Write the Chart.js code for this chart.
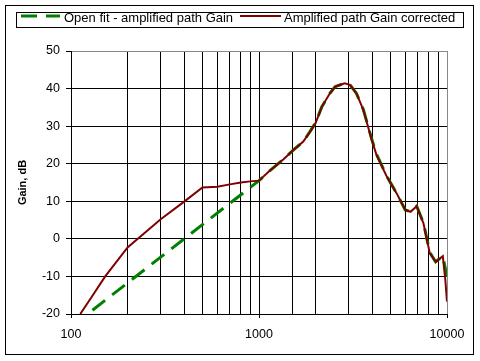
<!DOCTYPE html>
<html>
<head>
<meta charset="utf-8">
<script src="https://cdn.jsdelivr.net/npm/chart.js@4/dist/chart.umd.min.js"></script>
<style>
  body { margin: 0; background: #fff; }
  canvas { display: block; }
</style>
</head>
<body>
<canvas id="chart" width="480" height="361"></canvas>
<script>
// frequencies in Hz, gains in dB
const fitFreq = [130, 1000, 1140, 1350, 1520, 1720, 1870, 2000, 2160, 2380, 2540, 2850, 3050, 3300, 3590, 3980, 4220, 4790, 5400, 6000, 6400, 6900, 7500, 8100, 8700, 9500, 10000];
const fitGain = [-19, 15.5, 18.1, 21.2, 23.6, 25.9, 28.6, 30.9, 35.2, 38.7, 40.5, 41.4, 41, 38.7, 34.4, 26.5, 22.5, 16.6, 12.1, 7.7, 7.2, 8.7, 4.2, -3.6, -6.1, -4.6, -10];

const corrFreq = [112, 129, 152, 200, 300, 400, 500, 600, 700, 800, 900, 1000, 1140, 1350, 1520, 1720, 1870, 2000, 2160, 2380, 2540, 2850, 3050, 3300, 3590, 3980, 4220, 4790, 5400, 6000, 6400, 6900, 7500, 8100, 8700, 9500, 9800, 10000];
const corrGain = [-20, -15.4, -10, -2.3, 5.2, 9.9, 13.7, 13.9, 14.5, 15.0, 15.3, 15.5, 18.1, 21.2, 23.6, 25.9, 28.5, 30.8, 35.2, 38.7, 40.5, 41.4, 41, 38.7, 34.3, 26.3, 22.3, 16.5, 12.1, 7.7, 7.2, 8.7, 4.1, -3.8, -6.1, -4.6, -11, -16.7];

const seriesNames = ['Open fit - amplified path Gain', 'Amplified path Gain corrected'];
const xLabels = [100, 1000, 10000];
const yTicks = [-20, -10, 0, 10, 20, 30, 40, 50];

const FONT = "'Liberation Sans', Arial, sans-serif";

function toPoints(xs, ys) {
    const pts = [];
    for (let i = 0; i < xs.length; i++) {
        pts.push({ x: xs[i], y: ys[i] });
    }
    return pts;
}

function isDecade(v) {
    const l = Math.log10(v);
    return Math.abs(l - Math.round(l)) < 1e-6;
}

// outer frame + boxed legend like the spreadsheet export
const framePlugin = {
    id: 'frame',
    beforeDraw(chart) {
        const ctx = chart.ctx;
        ctx.save();
        ctx.fillStyle = '#fff';
        ctx.fillRect(0, 0, chart.width, chart.height);
        ctx.restore();
    },
    afterDraw(chart) {
        const ctx = chart.ctx;
        ctx.save();
        ctx.strokeStyle = '#000';
        ctx.lineWidth = 1;
        ctx.setLineDash([]);
        ctx.strokeRect(5.5, 5.5, 468, 349);

        // legend
        ctx.strokeRect(16.5, 12.5, 447, 15);
        ctx.font = '13px ' + FONT;
        ctx.textBaseline = 'alphabetic';
        ctx.fillStyle = '#000';

        const ds = chart.data.datasets;
        const items = [
            { set: ds[1], x0: 21, x1: 60, tx: 64 },
            { set: ds[0], x0: 240, x1: 281, tx: 284 }
        ];
        items.forEach(it => {
            ctx.beginPath();
            ctx.strokeStyle = it.set.borderColor;
            ctx.lineWidth = it.set.borderWidth;
            ctx.setLineDash(it.set.borderDash || []);
            ctx.moveTo(it.x0, 16);
            ctx.lineTo(it.x1, 16);
            ctx.stroke();
            ctx.setLineDash([]);
            ctx.fillText(it.set.label, it.tx, 22);
        });
        ctx.restore();
    }
};

const ctx = document.getElementById('chart').getContext('2d');

new Chart(ctx, {
    type: 'line',
    data: {
        datasets: [
            {
                label: seriesNames[1],
                data: toPoints(corrFreq, corrGain),
                borderColor: '#800000',
                borderWidth: 2,
                pointRadius: 0,
                tension: 0,
                order: 0
            },
            {
                label: seriesNames[0],
                data: toPoints(fitFreq, fitGain),
                borderColor: '#008000',
                borderWidth: 3,
                borderDash: [16, 9],
                borderCapStyle: 'butt',
                pointRadius: 0,
                tension: 0,
                order: 1
            }
        ]
    },
    options: {
        responsive: false,
        animation: false,
        devicePixelRatio: 1,
        layout: { padding: { left: 0, right: 33, top: 51, bottom: 0 } },
        plugins: {
            legend: { display: false },
            tooltip: { enabled: false }
        },
        scales: {
            x: {
                type: 'logarithmic',
                min: 100,
                max: 10000,
                afterFit: s => { s.height = 47; },
                border: { color: '#000', width: 1 },
                grid: {
                    color: c => (c.tick && c.tick.value === 10000) ? '#888' : '#000',
                    tickColor: c => (c.tick && isDecade(c.tick.value)) ? '#000' : 'rgba(0,0,0,0)',
                    tickLength: 4,
                    lineWidth: 1
                },
                ticks: {
                    autoSkip: false,
                    maxRotation: 0,
                    padding: 9,
                    color: '#000',
                    font: { family: FONT, size: 12.5 },
                    callback: v => (isDecade(v) && xLabels.includes(Math.round(v))) ? String(Math.round(v)) : ''
                }
            },
            y: {
                min: yTicks[0],
                max: yTicks[yTicks.length - 1],
                afterFit: s => { s.width = 71; },
                border: { color: '#000', width: 1 },
                grid: {
                    color: c => (c.tick && c.tick.value === 50) ? '#888' : '#000',
                    tickColor: '#000',
                    tickLength: 5,
                    lineWidth: 1
                },
                ticks: {
                    stepSize: 10,
                    padding: 6,
                    color: '#000',
                    font: { family: FONT, size: 12.5 }
                },
                title: {
                    display: true,
                    text: 'Gain, dB',
                    color: '#000',
                    font: { family: FONT, size: 11, weight: 'bold' },
                    padding: { top: 16, bottom: 0 }
                }
            }
        }
    },
    plugins: [framePlugin]
});
</script>
</body>
</html>
